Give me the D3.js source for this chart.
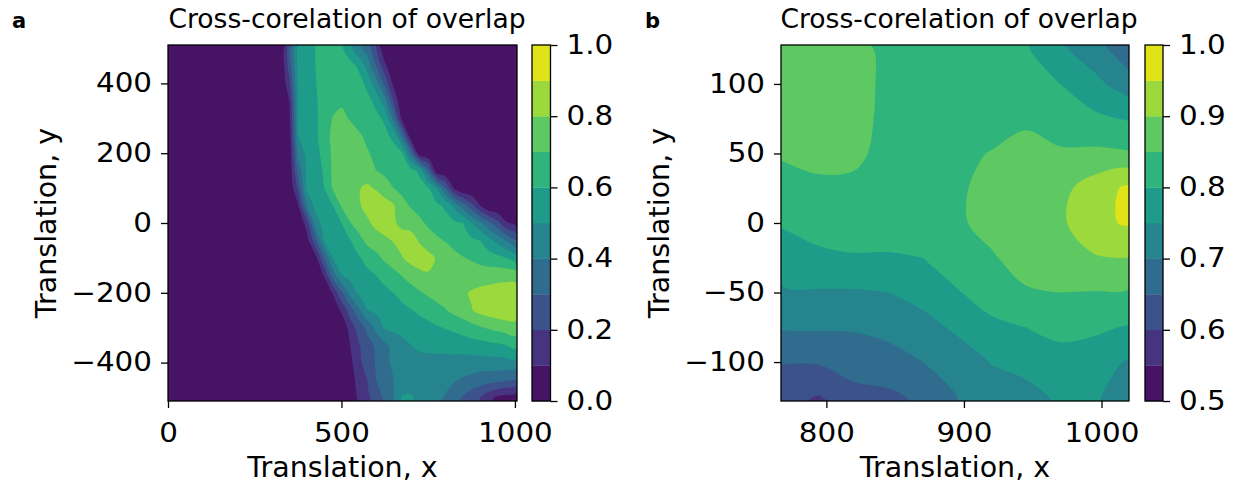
<!DOCTYPE html>
<html><head><meta charset="utf-8">
<script src="https://cdn.jsdelivr.net/npm/d3@7"></script>
<style>body{margin:0;background:#fff}svg text{font-family:"DejaVu Sans",sans-serif}</style>
</head><body>
<svg id="chart" width="1236" height="485"></svg>
<script>
// ---------- Panel a data (rows: y from 500 to -500, columns: x from 0 to 1000) ----------
const aGridX = [0,25,50,75,100,125,150,175,200,225,250,275,300,325,350,375,400,425,450,475,500,525,550,575,600,625,650,675,700,725,750,775,800,825,850,875,900,925,950,975,1000];
const aGridY = [500,450,400,350,300,250,200,150,100,50,0,-50,-100,-150,-200,-250,-300,-350,-400,-450,-500];
const Z13 = [0,0,0,0,0,0,0,0,0,0,0,0,0]; // x = 0 .. 300 (all below 0.1)
const aValues = [
 Z13.concat([0,0.27,0.53,0.56,0.60,0.645,0.665,0.615,0.52,0.42,0.36,0.2,0,0,0,0,0,0,0,0,0,0,0,0,0,0,0,0]),
 Z13.concat([0,0.25,0.53,0.56,0.60,0.645,0.675,0.675,0.64,0.58,0.46,0.3,0.13,0,0,0,0,0,0,0,0,0,0,0,0,0,0,0]),
 Z13.concat([0,0.18,0.52,0.555,0.595,0.64,0.67,0.69,0.68,0.64,0.57,0.44,0.27,0.07,0,0,0,0,0,0,0,0,0,0,0,0,0,0]),
 Z13.concat([0,0.1,0.52,0.55,0.59,0.63,0.66,0.69,0.695,0.67,0.63,0.57,0.44,0.2,0,0,0,0,0,0,0,0,0,0,0,0,0,0]),
 Z13.concat([0,0.07,0.51,0.545,0.585,0.64,0.705,0.715,0.695,0.67,0.65,0.625,0.58,0.37,0.06,0,0,0,0,0,0,0,0,0,0,0,0,0]),
 Z13.concat([0,0.05,0.5,0.54,0.58,0.65,0.725,0.74,0.73,0.71,0.685,0.66,0.63,0.57,0.36,0.03,0,0,0,0,0,0,0,0,0,0,0,0]),
 Z13.concat([0,0.03,0.42,0.53,0.57,0.63,0.72,0.755,0.77,0.745,0.705,0.685,0.665,0.645,0.61,0.36,0.02,0,0,0,0,0,0,0,0,0,0,0]),
 Z13.concat([0,0.02,0.33,0.52,0.56,0.61,0.72,0.76,0.78,0.785,0.75,0.7,0.685,0.67,0.655,0.635,0.58,0.33,0.03,0,0,0,0,0,0,0,0,0]),
 Z13.concat([0,0.01,0.22,0.52,0.555,0.6,0.71,0.75,0.77,0.795,0.815,0.79,0.73,0.7,0.675,0.655,0.635,0.61,0.5,0.3,0.08,0,0,0,0,0,0,0]),
 Z13.concat([0,0,0.09,0.4,0.53,0.565,0.6,0.71,0.76,0.79,0.83,0.86,0.855,0.81,0.73,0.69,0.665,0.64,0.62,0.58,0.47,0.35,0.23,0.1,0,0,0,0]),
 Z13.concat([0,0,0,0.15,0.46,0.53,0.565,0.6,0.695,0.745,0.785,0.825,0.84,0.81,0.78,0.76,0.72,0.685,0.66,0.64,0.62,0.6,0.5,0.42,0.33,0.23,0.11,0.08]),
 Z13.concat([0,0,0,0.05,0.27,0.51,0.54,0.565,0.595,0.665,0.73,0.76,0.785,0.805,0.835,0.845,0.79,0.74,0.715,0.695,0.67,0.645,0.62,0.6,0.53,0.47,0.39,0.31]),
 Z13.concat([0,0,0,0,0.06,0.3,0.5,0.53,0.56,0.59,0.63,0.67,0.72,0.76,0.795,0.835,0.855,0.835,0.79,0.755,0.725,0.705,0.69,0.67,0.65,0.63,0.6,0.55]),
 Z13.concat([0,0,0,0,0,0.11,0.35,0.5,0.53,0.555,0.58,0.6,0.63,0.665,0.705,0.74,0.77,0.79,0.79,0.775,0.76,0.75,0.745,0.745,0.75,0.76,0.765,0.765]),
 Z13.concat([0,0,0,0,0,0,0.11,0.28,0.44,0.515,0.54,0.56,0.58,0.6,0.63,0.66,0.69,0.715,0.735,0.75,0.765,0.785,0.81,0.83,0.84,0.85,0.855,0.855]),
 Z13.concat([0,0,0,0,0,0,0,0.12,0.25,0.38,0.5,0.52,0.54,0.56,0.575,0.595,0.62,0.645,0.67,0.695,0.73,0.76,0.795,0.83,0.855,0.865,0.87,0.87]),
 Z13.concat([0,0,0,0,0,0,0,0,0.15,0.24,0.33,0.43,0.51,0.525,0.535,0.545,0.555,0.57,0.59,0.605,0.62,0.64,0.665,0.69,0.71,0.73,0.75,0.76]),
 Z13.concat([0,0,0,0,0,0,0,0,0.1,0.19,0.26,0.32,0.38,0.43,0.47,0.5,0.515,0.525,0.535,0.54,0.545,0.55,0.56,0.565,0.575,0.585,0.6,0.635]),
 Z13.concat([0,0,0,0,0,0,0,0,0.07,0.18,0.24,0.31,0.37,0.42,0.45,0.47,0.475,0.47,0.465,0.46,0.46,0.455,0.455,0.455,0.46,0.46,0.465,0.47]),
 Z13.concat([0,0,0,0,0,0,0,0,0.04,0.15,0.2,0.3,0.35,0.4,0.44,0.46,0.46,0.45,0.44,0.43,0.41,0.39,0.37,0.35,0.34,0.33,0.31,0.3]),
 Z13.concat([0,0,0,0,0,0,0,0,0,0.13,0.18,0.25,0.32,0.4,0.51,0.51,0.47,0.44,0.42,0.39,0.34,0.29,0.24,0.2,0.13,0.08,0.06,0.05])
];
const aLevels = [0,0.1,0.2,0.3,0.4,0.5,0.6,0.7,0.8,0.9,1.0];
const aXTicks = [0,500,1000];
const aYTicks = [-400,-200,0,200,400];
const aCbTicks = [0,0.2,0.4,0.6,0.8,1.0];

// ---------- Panel b data (rows: y from 125 to -125, columns: x from 770 to 1020) ----------
const bGridX = [770,795,820,845,870,895,920,945,970,995,1020];
const bGridY = [125,100,75,50,25,0,-25,-50,-75,-100,-125];
const bValues = [
 [0.87,0.875,0.87,0.835,0.83,0.825,0.82,0.805,0.76,0.72,0.67],
 [0.875,0.88,0.875,0.835,0.835,0.835,0.83,0.82,0.80,0.765,0.72],
 [0.87,0.875,0.87,0.835,0.84,0.84,0.84,0.845,0.83,0.81,0.795],
 [0.855,0.865,0.86,0.835,0.84,0.845,0.851,0.86,0.855,0.86,0.855],
 [0.835,0.84,0.84,0.83,0.835,0.845,0.86,0.875,0.885,0.925,0.96],
 [0.805,0.82,0.83,0.825,0.83,0.843,0.865,0.875,0.89,0.94,0.955],
 [0.78,0.79,0.795,0.795,0.80,0.835,0.845,0.87,0.87,0.895,0.90],
 [0.745,0.745,0.745,0.75,0.77,0.795,0.83,0.845,0.85,0.848,0.845],
 [0.705,0.705,0.705,0.715,0.73,0.76,0.785,0.80,0.815,0.81,0.795],
 [0.652,0.655,0.67,0.68,0.70,0.72,0.752,0.76,0.78,0.77,0.745],
 [0.61,0.598,0.635,0.64,0.66,0.70,0.725,0.74,0.755,0.755,0.73]
];
const bLevels = [0.5,0.55,0.6,0.65,0.7,0.75,0.8,0.85,0.9,0.95,1.0];
const bXTicks = [800,900,1000];
const bYTicks = [-100,-50,0,50,100];
const bCbTicks = [0.5,0.6,0.7,0.8,0.9,1.0];

const titleText = "Cross-corelation of overlap";
const xLabelText = "Translation, x";
const yLabelText = "Translation, y";

const svg = d3.select("#chart");
svg.append("rect").attr("width",1236).attr("height",485).attr("fill","#fff");

const TICK_FS = 26, TICK_STRETCH = 1.13;
function styleAxis(g) {
  g.attr("font-family", null).attr("font-size", null);
  g.select(".domain").remove();
  g.selectAll(".tick line").attr("stroke","#000").attr("stroke-width",1.3);
  g.selectAll(".tick text").attr("fill","#000")
    .style("font-size", TICK_FS + "px").style("font-family","DejaVu Sans")
    .attr("transform", function() {
      const tx = +(this.getAttribute("x") || 0);
      return `translate(${tx},0) scale(${TICK_STRETCH},1) translate(${-tx},0)`;
    });
}

function drawPanel(p) {
  const x = d3.scaleLinear().domain(p.xDomain).range([p.left, p.right]);
  const y = d3.scaleLinear().domain(p.yDomain).range([p.bottom, p.top]);
  const L = p.levels, nL = L.length;
  const color = i => d3.interpolateViridis(((L[i] + L[i+1]) / 2 - L[0]) / (L[nL-1] - L[0]));
  const nx = p.gx.length, ny = p.gy.length;
  const dx = p.gx[1] - p.gx[0], dy = p.gy[1] - p.gy[0];

  const clipId = "clip-" + p.id;
  svg.append("clipPath").attr("id", clipId).append("rect")
    .attr("x", p.left).attr("y", p.top).attr("width", p.right - p.left).attr("height", p.bottom - p.top);
  const g = svg.append("g").attr("clip-path", `url(#${clipId})`);
  g.append("rect").attr("x", p.left).attr("y", p.top)
    .attr("width", p.right - p.left).attr("height", p.bottom - p.top).attr("fill", color(0));

  const contours = d3.contours().size([nx, ny]).thresholds(L.slice(0, -1))(p.values.flat());
  const line = d3.line().curve(d3.curveCatmullRomClosed.alpha(0.5));
  contours.forEach((c, i) => {
    const d = c.coordinates.map(poly => poly.map(ring =>
      line(ring.slice(0, -1).map(([cx, cy]) => [
        x(p.gx[0] + (cx - 0.5) * dx),
        y(p.gy[0] + (cy - 0.5) * dy)
      ]))).join("")).join("");
    if (d) g.append("path").attr("d", d).attr("fill", color(i)).attr("fill-rule", "evenodd");
  });

  svg.append("rect").attr("x", p.left).attr("y", p.top)
    .attr("width", p.right - p.left).attr("height", p.bottom - p.top)
    .attr("fill", "none").attr("stroke", "#000").attr("stroke-width", 1.3);

  const fmtInt = d3.format("d");
  const gx = svg.append("g").attr("transform", `translate(0,${p.bottom})`)
    .call(d3.axisBottom(x).tickValues(p.xTicks).tickFormat(fmtInt).tickSize(7).tickPadding(15.5));
  styleAxis(gx);
  const gy = svg.append("g").attr("transform", `translate(${p.left},0)`)
    .call(d3.axisLeft(y).tickValues(p.yTicks).tickFormat(fmtInt).tickSize(7).tickPadding(9));
  styleAxis(gy);

  const cb = d3.scaleLinear().domain([L[0], L[nL-1]]).range([p.bottom, p.top]);
  const cbg = svg.append("g");
  d3.range(nL - 1).forEach(i => {
    cbg.append("rect").attr("x", p.cbLeft).attr("width", p.cbWidth)
      .attr("y", cb(L[i+1])).attr("height", cb(L[i]) - cb(L[i+1]) + 0.3)
      .attr("fill", color(i));
  });
  cbg.append("rect").attr("x", p.cbLeft).attr("y", p.top).attr("width", p.cbWidth)
    .attr("height", p.bottom - p.top).attr("fill", "none").attr("stroke", "#000").attr("stroke-width", 1.3);
  const gcb = svg.append("g").attr("transform", `translate(${p.cbLeft + p.cbWidth},0)`)
    .call(d3.axisRight(cb).tickValues(p.cbTicks).tickFormat(d3.format(".1f")).tickSize(7).tickPadding(9));
  styleAxis(gcb);

  svg.append("text").attr("x", p.titleX).attr("y", 28).attr("text-anchor", "middle")
    .style("font-size", "26.6px").attr("fill", "#000").text(titleText);
  svg.append("text").attr("x", (p.left + p.right) / 2).attr("y", 477).attr("text-anchor", "middle")
    .style("font-size", "28.5px").attr("fill", "#000").text(xLabelText);
  svg.append("text").attr("transform", `translate(${p.yLabelX},${(p.top + p.bottom) / 2}) rotate(-90)`)
    .attr("text-anchor", "middle").style("font-size", "28.5px").attr("fill", "#000").text(yLabelText);
  svg.append("text").attr("x", p.letterX).attr("y", 28).style("font-size", "21px")
    .style("font-weight", "bold").attr("fill", "#000").text(p.letter);
}

drawPanel({
  id: "a", letter: "a", letterX: 12,
  gx: aGridX, gy: aGridY, values: aValues, levels: aLevels,
  xDomain: [0, 1006], yDomain: [-510, 510],
  left: 168, right: 517, top: 45, bottom: 401,
  xTicks: aXTicks, yTicks: aYTicks, cbTicks: aCbTicks,
  cbLeft: 532, cbWidth: 18.5, titleX: 347, yLabelX: 56
});
drawPanel({
  id: "b", letter: "b", letterX: 645,
  gx: bGridX, gy: bGridY, values: bValues, levels: bLevels,
  xDomain: [767, 1020], yDomain: [-128, 128],
  left: 781, right: 1129, top: 45, bottom: 401,
  xTicks: bXTicks, yTicks: bYTicks, cbTicks: bCbTicks,
  cbLeft: 1145, cbWidth: 18, titleX: 959, yLabelX: 669
});
</script>
</body></html>
